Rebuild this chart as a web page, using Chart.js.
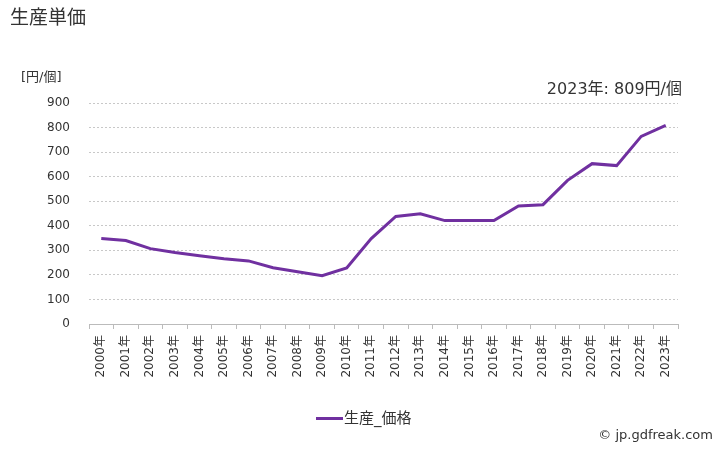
<!DOCTYPE html>
<html>
<head>
<meta charset="utf-8">
<script src="https://cdn.jsdelivr.net/npm/chart.js@4"></script>
<style>
  body { margin: 0; background: #fff; font-family: "DejaVu Sans", "Noto Sans CJK JP", sans-serif; color: #333; }
  #wrap { position: relative; width: 728px; height: 450px; }
  .txt { position: absolute; white-space: nowrap; line-height: 1; }
</style>
</head>
<body>
<div id="wrap">
  <canvas id="chart" width="728" height="450"></canvas>
  <div class="txt" style="left:10px; top:8px; font-size:19px;">生産単価</div>
  <div class="txt" style="left:21px; top:70px; font-size:13px;">[円/個]</div>
  <div class="txt" style="right:46px; top:81px; font-size:16px;">2023年: 809円/個</div>
  <div class="txt" style="left:316px; top:411px; font-size:15px;">
    <span style="display:inline-block; width:27px; height:3px; background:#7030A0; vertical-align:middle; margin-right:1px;"></span>生産_価格
  </div>
  <div class="txt" style="right:15px; top:428px; font-size:13px;">© jp.gdfreak.com</div>
</div>
<script>
// 年ごとのデータ
const years = ['2000年','2001年','2002年','2003年','2004年','2005年','2006年','2007年','2008年','2009年','2010年','2011年',
               '2012年','2013年','2014年','2015年','2016年','2017年','2018年','2019年','2020年','2021年','2022年','2023年'];
const prices = [348, 340, 307, 291, 278, 266, 257, 229, 213, 197, 228, 348,
                438, 449, 421, 421, 421, 481, 486, 585, 653, 645, 764, 809];
const yTicks = [0, 100, 200, 300, 400, 500, 600, 700, 800, 900];

const FONT = '"DejaVu Sans", "Noto Sans CJK JP", sans-serif';

const ctx = document.getElementById('chart').getContext('2d');
new Chart(ctx, {
    type: 'line',
    data: {
        labels: years,
        datasets: [{
            label: '生産_価格',
            data: prices,
            borderColor: '#7030A0',
            borderWidth: 3,
            pointRadius: 0,
            tension: 0,
            fill: false
        }]
    },
    options: {
        responsive: false,
        animation: false,
        layout: { padding: { left: 0, top: 103, right: 50, bottom: 0 } },
        plugins: {
            legend: { display: false },
            tooltip: { enabled: false }
        },
        scales: {
            x: {
                offset: true,
                grid: { drawOnChartArea: false, offset: true, tickLength: 5, color: '#bbb' },
                border: { color: '#bbb', dash: [2, 1] },
                ticks: {
                    minRotation: 90, maxRotation: 90, autoSkip: false,
                    color: '#333', padding: 6,
                    font: { family: FONT, size: 12 }
                },
                afterFit: function(scale) { scale.height = 126; }
            },
            y: {
                min: 0, max: 900,
                afterBuildTicks: function(scale) { scale.ticks = yTicks.map(v => ({ value: v })); },
                grid: { color: '#c8c8c8', drawTicks: false },
                border: { display: false, dash: [2, 2] },
                ticks: {
                    color: '#333', padding: 19,
                    font: { family: FONT, size: 12 }
                },
                afterFit: function(scale) { scale.width = 89; }
            }
        }
    }
});
</script>
</body>
</html>
